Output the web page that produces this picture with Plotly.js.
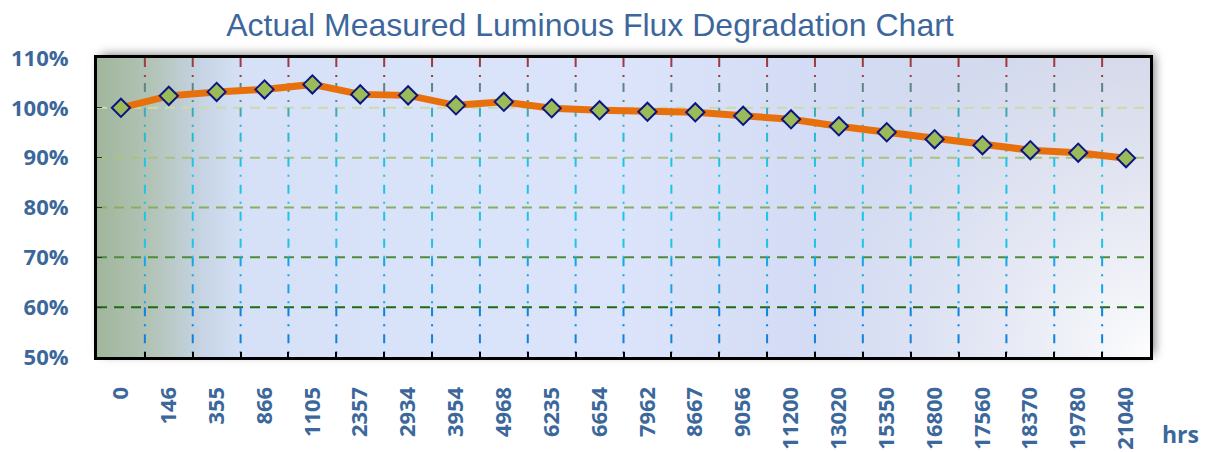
<!DOCTYPE html>
<html>
<head>
<meta charset="utf-8">
<script src="https://cdn.plot.ly/plotly-3.0.1.min.js"></script>
<style>
html,body{margin:0;padding:0;background:#fff;}
#chart{width:1210px;height:452px;}
</style>
</head>
<body>
<div id="chart"></div>
<script>
// ---- data ----
const categories = ['0','146','355','866','1105','2357','2934','3954','4968','6235','6654','7962','8667','9056','11200','13020','15350','16800','17560','18370','19780','21040'];
const flux = [100.0,102.4,103.2,103.7,104.7,102.7,102.5,100.5,101.2,99.9,99.5,99.2,99.1,98.4,97.7,96.3,95.1,93.7,92.5,91.5,91.0,89.9];
const yTickVals = [50,60,70,80,90,100,110];
const yTickText = ['50%','60%','70%','80%','90%','100%','110%'];
const chartTitle = 'Actual Measured Luminous Flux Degradation Chart';
const unitLabel = 'hrs';

// ---- styles ----
const M = {l:97, r:60, t:58, b:95};
const W = 1210, H = 452;
const plotW = W - M.l - M.r, plotH = H - M.t - M.b;
const labelColor = '#3b679b';

// background image (gradient + shadow) drawn on canvas
const pad = 16;
const cv = document.createElement('canvas');
cv.width = plotW + 2*pad; cv.height = plotH + 2*pad;
const ctx = cv.getContext('2d');
const g = ctx.createLinearGradient(pad,0,pad+plotW,0);
g.addColorStop(0.00,'#a0b69b');
g.addColorStop(0.05,'#b2c3b6');
g.addColorStop(0.10,'#c6d4e4');
g.addColorStop(0.14,'#d6e1f7');
g.addColorStop(0.50,'#dbe4fa');
g.addColorStop(0.68,'#d3dcf4');
g.addColorStop(1.00,'#d3d7e8');
ctx.save();
ctx.shadowColor = 'rgba(0,0,0,0.55)';
ctx.shadowBlur = 10;
ctx.shadowOffsetX = 4;
ctx.shadowOffsetY = -3;
ctx.fillStyle = g;
ctx.fillRect(pad,pad,plotW,plotH);
ctx.restore();
ctx.fillStyle = g;
ctx.fillRect(pad,pad,plotW,plotH);
const rg = ctx.createRadialGradient(pad+plotW, pad+plotH, 0, pad+plotW, pad+plotH, plotW*0.32);
rg.addColorStop(0,'rgba(255,255,255,0.95)');
rg.addColorStop(0.5,'rgba(248,248,252,0.45)');
rg.addColorStop(1,'rgba(240,242,250,0)');
ctx.fillStyle = rg;
ctx.fillRect(pad,pad,plotW,plotH);
const bgURL = cv.toDataURL('image/png');

// vertical grid bands (colour varies with height)
const vBands = [
  [105,110,'#9e3b3b'],
  [100,105,'#5f8484'],
  [95,100,'#3aaabb'],
  [90,95,'#28bad2'],
  [70,90,'#1dc4e6'],
  [60,70,'#16a4e8'],
  [50,60,'#0d82de']
];
const hGridColors = {60:'#1c6c12', 70:'#4e8c3a', 80:'#86b060', 90:'#a9c284', 100:'#cdd9aa'};

const shapes = [];
for (let i = 0; i < categories.length - 1; i++) {
  vBands.forEach(b => {
    shapes.push({type:'line', xref:'x', yref:'y', x0:i+0.5, x1:i+0.5, y0:b[1], y1:b[0],
      line:{color:b[2], width:2, dash:'9px,8px,2px,8px'}, layer:'below'});
  });
}
Object.keys(hGridColors).forEach(v => {
  shapes.push({type:'line', xref:'paper', yref:'y', x0:0, x1:1, y0:+v, y1:+v,
    line:{color:hGridColors[v], width:2, dash:'10px,7px'}, layer:'below'});
});

const trace = {
  type:'scatter', mode:'lines+markers',
  x: categories, y: flux,
  line:{color:'#e8700c', width:7},
  marker:{symbol:'diamond', size:14, color:'#9bbb59', line:{color:'#0b1680', width:2}},
  hoverinfo:'x+y'
};

const layout = {
  width:W, height:H,
  margin:M,
  paper_bgcolor:'#ffffff',
  plot_bgcolor:'rgba(0,0,0,0)',
  showlegend:false,
  title:{text:chartTitle, font:{family:'Liberation Sans, Arial, sans-serif', size:32, color:'#3d679c'},
    xref:'container', yref:'container', x:590/W, xanchor:'center', y:1-25/H, yanchor:'middle'},
  xaxis:{type:'category', categoryorder:'array', categoryarray:categories, range:[-0.5, categories.length-0.5],
    showgrid:false, zeroline:false, showline:true, mirror:true, linecolor:'#000', linewidth:3,
    ticks:'inside', tickson:'boundaries', ticklen:5, tickwidth:2, tickcolor:'#000',
    tickangle:-90, ticklabelstandoff:18,
    tickfont:{family:'Open Sans, sans-serif', size:22, color:labelColor, weight:'bold'}},
  yaxis:{range:[50,110], tickvals:yTickVals, ticktext:yTickText,
    showgrid:false, zeroline:false, showline:true, mirror:true, linecolor:'#000', linewidth:3,
    ticks:'inside', ticklen:5, tickwidth:1, tickcolor:'#333', ticklabelstandoff:21,
    tickfont:{family:'Open Sans, sans-serif', size:22, color:labelColor, weight:'bold'}},
  images:[{source:bgURL, xref:'paper', yref:'paper', x:-pad/plotW, y:1+pad/plotH,
    sizex:(plotW+2*pad)/plotW, sizey:(plotH+2*pad)/plotH, xanchor:'left', yanchor:'top',
    sizing:'stretch', layer:'below'}],
  shapes:shapes,
  annotations:[{text:unitLabel, xref:'paper', yref:'paper', x:(1200-M.l)/plotW, y:-(434-(H-M.b))/plotH,
    xanchor:'right', yanchor:'middle', showarrow:false, borderpad:0,
    font:{family:'Open Sans, sans-serif', size:23, color:labelColor, weight:'bold'}}]
};

Plotly.newPlot('chart',[trace],layout,{displayModeBar:false, staticPlot:true});
</script>
</body>
</html>
